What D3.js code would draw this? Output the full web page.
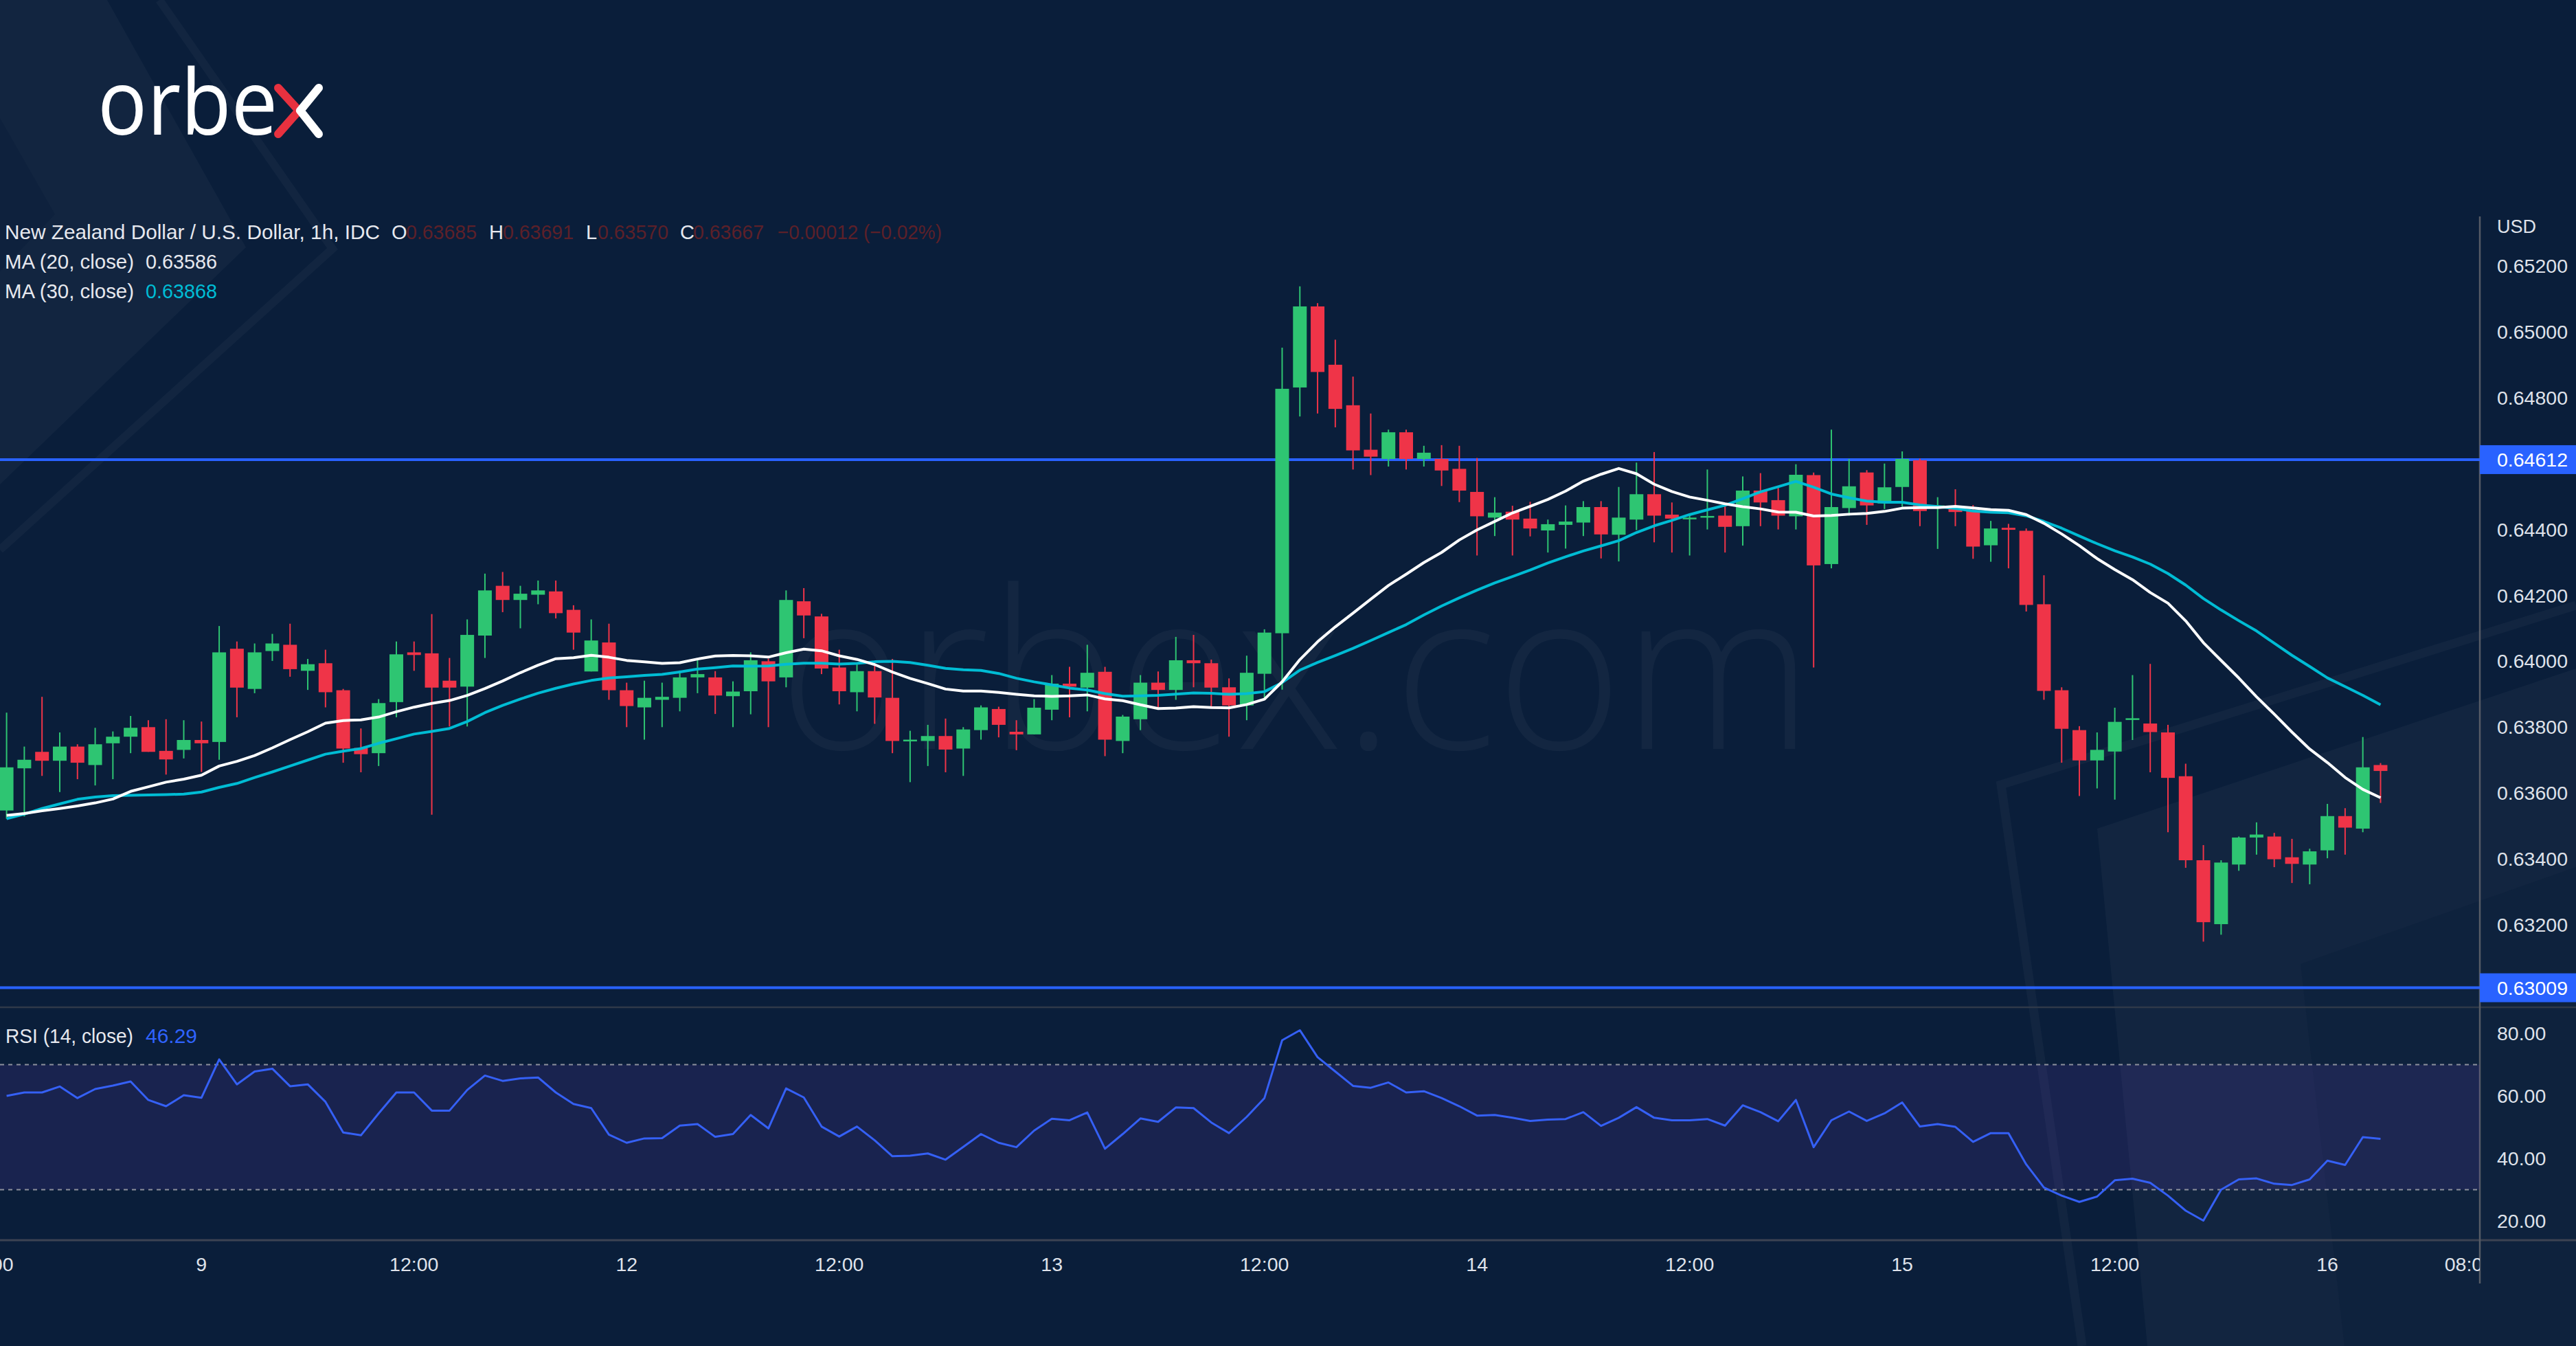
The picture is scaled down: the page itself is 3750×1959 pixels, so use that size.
<!DOCTYPE html>
<html><head><meta charset="utf-8">
<script src="https://cdn.jsdelivr.net/npm/d3@7"></script>
<style>html,body{margin:0;padding:0;background:#0a1e3a;overflow:hidden}svg{display:block}</style>
</head><body>
<script>
// ---------------- DATA ----------------
const opens  = [.63547,.63675,.63725,.63698,.63741,.63685,.63751,.63771,.63800,.63728,.63731,.63761,.63755,.64038,.63916,.64031,.64050,.63971,.63994,.63912,
.63737,.63721,.63876,.64027,.64024,.63941,.63923,.64078,.64229,.64186,.64202,.64212,.64156,.63969,.64057,.63912,.63860,.63883,.63889,.63951,
.63951,.63894,.63909,.64000,.63951,.64182,.64136,.63981,.63906,.63970,.63889,.63758,.63758,.63773,.63735,.63791,.63855,.63786,.63778,.63853,
.63932,.63920,.63968,.63758,.63824,.63935,.63913,.64003,.63994,.63921,.63866,.63962,.64085,.64831,.65077,.64900,.64777,.64642,.64614,.64695,
.64614,.64614,.64584,.64514,.64436,.64454,.64433,.64397,.64414,.64421,.64468,.64384,.64430,.64507,.64445,.64435,.64437,.64442,.64410,.64518,
.64489,.64440,.64565,.64295,.64465,.64573,.64479,.64529,.64610,.64467,.64471,.64460,.64352,.64405,.64396,.64173,.63912,.63791,.63699,.63726,
.63822,.63811,.63784,.63651,.63396,.63202,.63383,.63465,.63468,.63405,.63383,.63426,.63530,.63492,.63685];
const highs  = [.63844,.63741,.63892,.63784,.63748,.63798,.63787,.63834,.63821,.63824,.63821,.63817,.64107,.64060,.64054,.64083,.64114,.64007,.64035,.63916,
.63796,.63885,.64060,.64060,.64143,.64010,.64127,.64266,.64271,.64229,.64245,.64245,.64170,.64127,.64114,.63935,.63941,.63935,.63972,.64003,
.63970,.63939,.64027,.64008,.64215,.64222,.64144,.64035,.63991,.63998,.64007,.63789,.63807,.63826,.63800,.63866,.63862,.63821,.63885,.63958,
.63983,.64050,.63983,.63837,.63958,.63969,.64074,.64080,.64005,.63948,.64017,.64097,.64952,.65138,.65087,.64976,.64864,.64752,.64703,.64703,
.64654,.64656,.64654,.64617,.64498,.64472,.64484,.64430,.64473,.64486,.64486,.64529,.64603,.64635,.64482,.64442,.64582,.64479,.64561,.64571,
.64526,.64598,.64573,.64703,.64614,.64580,.64600,.64637,.64615,.64498,.64522,.64474,.64426,.64417,.64403,.64261,.63921,.63803,.63784,.63859,
.63958,.63992,.63807,.63689,.63442,.63396,.63468,.63511,.63479,.63461,.63431,.63567,.63554,.63770,.63691];
const lows   = [.63522,.63529,.63652,.63603,.63642,.63623,.63642,.63721,.63725,.63656,.63705,.63664,.63701,.63830,.63903,.64001,.63953,.63913,.63860,.63692,
.63663,.63682,.63830,.63971,.63534,.63802,.63802,.64010,.64149,.64100,.64173,.64130,.64035,.63969,.63883,.63800,.63762,.63800,.63848,.63903,
.63840,.63800,.63839,.63800,.63921,.64070,.63961,.63869,.63848,.63810,.63721,.63633,.63682,.63663,.63652,.63762,.63769,.63730,.63778,.63821,
.63830,.63848,.63712,.63721,.63791,.63860,.63883,.63921,.63860,.63771,.63821,.63883,.63914,.64743,.64752,.64710,.64582,.64565,.64591,.64582,
.64591,.64532,.64483,.64321,.64380,.64321,.64379,.64330,.64342,.64380,.64312,.64303,.64398,.64361,.64330,.64321,.64400,.64330,.64351,.64410,
.64400,.64400,.63981,.64282,.64442,.64414,.64462,.64469,.64410,.64341,.64410,.64311,.64302,.64282,.64151,.63883,.63692,.63591,.63614,.63580,
.63761,.63663,.63481,.63373,.63149,.63170,.63364,.63413,.63375,.63327,.63323,.63402,.63413,.63481,.63570];
const closes = [.63678,.63701,.63698,.63741,.63692,.63748,.63771,.63798,.63725,.63702,.63761,.63751,.64027,.63920,.64027,.64054,.63976,.63991,.63906,.63735,
.63718,.63873,.64021,.64019,.63920,.63920,.64080,.64215,.64186,.64205,.64215,.64146,.64087,.64063,.63912,.63864,.63889,.63892,.63951,.63961,
.63896,.63908,.64003,.63939,.64186,.64139,.63978,.63909,.63970,.63890,.63758,.63762,.63773,.63732,.63793,.63860,.63807,.63778,.63859,.63932,
.63923,.63965,.63762,.63832,.63935,.63913,.64003,.63994,.63920,.63866,.63965,.64087,.64827,.65077,.64878,.64766,.64640,.64621,.64695,.64614,
.64633,.64579,.64518,.64440,.64451,.64430,.64403,.64416,.64424,.64468,.64385,.64436,.64507,.64442,.64433,.64436,.64441,.64408,.64518,.64482,
.64442,.64566,.64291,.64468,.64531,.64473,.64528,.64614,.64456,.64473,.64453,.64348,.64403,.64399,.64171,.63910,.63795,.63699,.63731,.63816,
.63827,.63785,.63646,.63396,.63208,.63389,.63465,.63474,.63399,.63385,.63423,.63530,.63495,.63678,.63667];
// moving averages for the first bars (their history lies outside the picture)
const ma20Head = [.63532,.63538,.63546,.63553,.63561,.63570,.63582,.63605,.63619,.63633,.63642,.63654,.63682,.63696,.63714,.63737,.63762,.63786,.63812];
const ma30Head = [.63522,.63536,.63553,.63567,.63581,.63588,.63592,.63593,.63594,.63595,.63597,.63603,.63617,.63629,.63647,.63664,.63682,.63700,.63718,.63727,
.63735,.63751,.63765,.63779,.63787,.63796,.63817,.63844,.63866];
const rsiValues = [60.0,61.1,61.1,63.0,59.3,62.2,63.3,64.6,58.7,56.7,60.2,59.4,71.7,63.7,67.8,68.7,63.1,63.7,58.1,48.3,
47.4,54.4,61.1,61.1,55.3,55.3,61.9,66.5,64.8,65.6,65.9,61.1,57.4,56.1,47.6,45.0,46.4,46.5,50.5,51.0,
46.9,47.8,53.9,49.6,62.4,59.5,50.2,47.0,50.2,45.8,40.7,40.9,41.6,39.6,43.7,47.8,45.0,43.6,48.9,52.7,
52.2,54.7,43.1,47.8,52.8,51.7,56.3,56.1,51.5,48.1,53.3,59.3,77.8,81.0,72.4,67.8,63.2,62.6,64.3,61.1,
61.5,59.3,56.7,53.7,53.9,53.0,52.0,52.4,52.6,54.8,50.4,53.0,56.4,53.0,52.2,52.2,52.6,50.5,57.0,54.8,
51.9,58.7,43.6,52.2,55.0,52.0,54.4,57.9,50.2,51.0,50.1,45.3,48.1,48.1,38.1,30.7,28.1,26.1,27.8,33.0,
33.5,32.2,28.1,23.3,20.1,30.0,33.3,33.6,31.9,31.5,33.3,39.3,37.9,46.8,46.29];
const priceTicks = [0.652,0.650,0.648,0.644,0.642,0.640,0.638,0.636,0.634,0.632];
const levelPrices = [0.64612, 0.63009];
const rsiTicks = [80,60,40,20];
const rsiBand = [30,70];
const timeTickIndex  = [-1,11,23,35,47,59,71,83,95,107,119,131,139];
const timeTickLabels = ["12:00","9","12:00","12","12:00","13","12:00","14","12:00","15","12:00","16","08:00"];

// ---------------- LAYOUT ----------------
const W=3750,H=1959, plotR=3610;
const BG="#0a1e3a", UP="#2ec572", DOWN="#ef3448", AXT="#dfe2ea";
const FONT="'Liberation Sans', Arial, sans-serif";

const svg=d3.select("body").append("svg").attr("width",W).attr("height",H);
svg.append("rect").attr("width",W).attr("height",H).attr("fill",BG);

// decorative background shapes
const deco=svg.append("g");
deco.append("path").attr("d","M0,0 L156,0 L358,360 L0,705 Z").attr("fill","rgba(255,255,255,0.035)");
deco.append("path").attr("d","M0,172 L80,312 L0,395 Z").attr("fill",BG).attr("opacity",0.5);
deco.append("path").attr("d","M232,0 L484,362 L0,800").attr("fill","none").attr("stroke","rgba(255,255,255,0.035)").attr("stroke-width",12);
deco.append("path").attr("d","M3750,881 L2913,1142 L3031,1959").attr("fill","none").attr("stroke","rgba(255,255,255,0.035)").attr("stroke-width",13);
deco.append("path").attr("d","M3053,1206 L3750,973 L3750,1959 L3126,1959 Z").attr("fill","rgba(255,255,255,0.035)");
deco.append("path").attr("d","M3349,1403 L3750,1262 L3750,1959 L3413,1959 Z").attr("fill",BG).attr("opacity",0.45);

// watermark
svg.append("text").attr("x",1134).attr("y",1090).attr("textLength",1505).attr("lengthAdjust","spacingAndGlyphs")
  .attr("font-family","'Open Sans', sans-serif").attr("font-weight",300).attr("font-size",322)
  .attr("fill","rgba(255,255,255,0.04)").text("orbex.com");

// logo
const logo=svg.append("g");
logo.append("text").attr("x",142).attr("y",196).attr("textLength",262).attr("lengthAdjust","spacingAndGlyphs")
  .attr("font-family","'Open Sans', sans-serif").attr("font-weight",500).attr("font-size",132).attr("fill","#ffffff").text("orbe");
logo.append("path").attr("d","M405,128 L435,161 L405,195").attr("fill","none").attr("stroke","#e8313f").attr("stroke-width",12).attr("stroke-linecap","round").attr("stroke-linejoin","round");
logo.append("path").attr("d","M464,128 L437,161 L464,195").attr("fill","none").attr("stroke","#ffffff").attr("stroke-width",12).attr("stroke-linecap","round").attr("stroke-linejoin","round");

// scales
const n=closes.length;
const x=d3.scaleLinear().domain([0,134]).range([9.6,9.6+25.79*134]);
const y=d3.scaleLinear().domain([0.632,0.652]).range([1346,387]);
const yr=d3.scaleLinear().domain([20,80]).range([1777,1504]);

const defs=svg.append("defs");
defs.append("clipPath").attr("id","cp").append("rect").attr("x",0).attr("y",311).attr("width",plotR).attr("height",1466-311);
defs.append("clipPath").attr("id","cr").append("rect").attr("x",0).attr("y",1467).attr("width",plotR).attr("height",1805-1467);
defs.append("clipPath").attr("id","ct").append("rect").attr("x",0).attr("y",1805).attr("width",plotR).attr("height",100);

// separators & axis line
svg.append("line").attr("x1",0).attr("x2",W).attr("y1",1466).attr("y2",1466).attr("stroke","#2f3949").attr("stroke-width",2.5);
svg.append("line").attr("x1",0).attr("x2",W).attr("y1",1805).attr("y2",1805).attr("stroke","#3c4352").attr("stroke-width",3);
svg.append("line").attr("x1",plotR).attr("x2",plotR).attr("y1",315).attr("y2",1868).attr("stroke","#565b66").attr("stroke-width",2.5);

// ---- price pane
const pp=svg.append("g").attr("clip-path","url(#cp)");
// level lines
pp.selectAll("line.lvl").data(levelPrices).join("line").attr("class","lvl")
  .attr("x1",0).attr("x2",plotR).attr("y1",d=>y(d)).attr("y2",d=>y(d)).attr("stroke","#2962ff").attr("stroke-width",4);

const idx=d3.range(n);
// MAs
const ma20=idx.map(i=> i<19 ? ma20Head[i] : d3.mean(closes.slice(i-19,i+1)));
const ma30=idx.map(i=> i<29 ? ma30Head[i] : d3.mean(closes.slice(i-29,i+1)));

// candles
const cg=pp.append("g");
cg.selectAll("line.wick").data(idx).join("line").attr("class","wick")
  .attr("x1",i=>x(i)).attr("x2",i=>x(i)).attr("y1",i=>y(highs[i])).attr("y2",i=>y(lows[i]))
  .attr("stroke",i=>closes[i]>=opens[i]?UP:DOWN).attr("stroke-width",2);
cg.selectAll("rect.body").data(idx).join("rect").attr("class","body")
  .attr("x",i=>x(i)-10).attr("width",20)
  .attr("y",i=>y(Math.max(opens[i],closes[i])))
  .attr("height",i=>Math.max(2.5,Math.abs(y(opens[i])-y(closes[i]))))
  .attr("fill",i=>closes[i]>=opens[i]?UP:DOWN);

const line=d3.line().x((d,i)=>x(i)).y(d=>y(d)).curve(d3.curveLinear);
pp.append("path").datum(ma30).attr("d",line).attr("fill","none").attr("stroke","#00bcd4").attr("stroke-width",4).attr("stroke-linejoin","round");
pp.append("path").datum(ma20).attr("d",line).attr("fill","none").attr("stroke","#ffffff").attr("stroke-width",4).attr("stroke-linejoin","round");

// price axis labels
svg.append("text").attr("x",3635).attr("y",330).attr("dominant-baseline","central").attr("font-family",FONT).attr("font-size",27).attr("fill",AXT).text("USD");
svg.selectAll("text.pt").data(priceTicks).join("text").attr("class","pt")
  .attr("x",3635).attr("y",d=>y(d)).attr("dominant-baseline","central")
  .attr("font-family",FONT).attr("font-size",28.5).attr("fill",AXT).text(d=>d.toFixed(5));
const lv=svg.selectAll("g.lv").data(levelPrices).join("g").attr("class","lv");
lv.append("rect").attr("x",plotR).attr("width",W-plotR).attr("y",d=>y(d)-21).attr("height",42).attr("fill","#2962ff");
lv.append("text").attr("x",3635).attr("y",d=>y(d)).attr("dominant-baseline","central")
  .attr("font-family",FONT).attr("font-size",28.5).attr("fill","#ffffff").text(d=>d.toFixed(5));

// ---- RSI pane
const rp=svg.append("g").attr("clip-path","url(#cr)");
rp.append("rect").attr("x",0).attr("width",plotR).attr("y",yr(rsiBand[1])).attr("height",yr(rsiBand[0])-yr(rsiBand[1])).attr("fill","rgba(120,70,210,0.14)");
rp.selectAll("line.band").data(rsiBand).join("line").attr("class","band")
  .attr("x1",0).attr("x2",plotR).attr("y1",d=>yr(d)).attr("y2",d=>yr(d))
  .attr("stroke","#8c909c").attr("stroke-width",2).attr("stroke-dasharray","6,6");
const rline=d3.line().x((d,i)=>x(i)).y(d=>yr(d));
rp.append("path").datum(rsiValues).attr("d",rline).attr("fill","none").attr("stroke","#3560f5").attr("stroke-width",3).attr("stroke-linejoin","round");
svg.selectAll("text.rt").data(rsiTicks).join("text").attr("class","rt")
  .attr("x",3635).attr("y",d=>yr(d)).attr("dominant-baseline","central")
  .attr("font-family",FONT).attr("font-size",28.5).attr("fill",AXT).text(d=>d.toFixed(2));

// ---- time axis
svg.append("g").attr("clip-path","url(#ct)").selectAll("text").data(timeTickIndex).join("text")
  .attr("x",d=>x(d)).attr("y",1840).attr("text-anchor","middle").attr("dominant-baseline","central")
  .attr("font-family",FONT).attr("font-size",28.5).attr("fill",AXT).text((d,i)=>timeTickLabels[i]);

// ---- legends
const HF=FONT, HS=29, TXT="#e6e8ee", DIM="#5c2029";
function t(xp,yp,s,c,len){const e=svg.append("text").attr("x",xp).attr("y",yp).attr("font-family",HF).attr("font-size",HS).attr("fill",c).text(s);
  if(len) e.attr("textLength",len).attr("lengthAdjust","spacingAndGlyphs"); return e;}
const lastI=n-1;
const chg=closes[lastI]-opens[lastI];
t(7,348,"New Zealand Dollar / U.S. Dollar, 1h, IDC",TXT,546);
t(570,348,"O",TXT); t(591,348,opens[lastI].toFixed(5),DIM,103);
t(712,348,"H",TXT); t(732,348,highs[lastI].toFixed(5).replace(/2$/,"1"),DIM,103);
t(853,348,"L",TXT); t(870,348,lows[lastI].toFixed(5),DIM,103);
t(990,348,"C",TXT); t(1009,348,closes[lastI].toFixed(5),DIM,103);
t(1132,348,"\u22120.00012 (\u22120.02%)",DIM,239);
t(7,391,"MA (20, close)",TXT,188); t(212,391,ma20[lastI].toFixed(5),TXT,104);
t(7,434,"MA (30, close)",TXT,188); t(212,434,ma30[lastI].toFixed(5),"#00bcd4",104);
t(8,1518,"RSI (14, close)",TXT,186); t(212,1518,rsiValues[lastI].toFixed(2),"#2f63ff",75);
</script>
</body></html>
